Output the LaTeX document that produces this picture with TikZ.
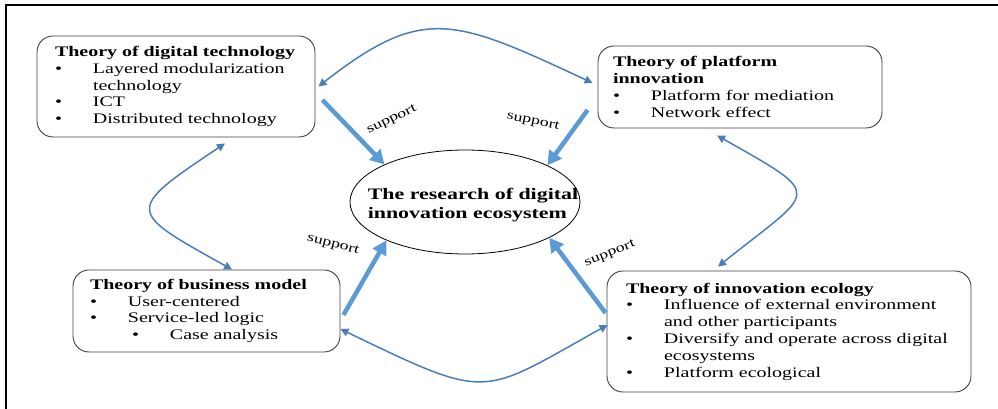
\documentclass[tikz,border=0pt]{standalone}
\usepackage{fontspec}
\setmainfont[FakeStretch=1.37]{Liberation Serif}
\usetikzlibrary{arrows.meta,calc,shapes.geometric}
\definecolor{supblue}{HTML}{5B9BD5}
\definecolor{linkblue}{HTML}{4A7EBB}
\definecolor{boxline}{HTML}{404040}
\newcommand{\bl}[1]{\mbox{\makebox[38pt][l]{•}#1}}
\newcommand{\sbl}[1]{\mbox{\hspace*{42pt}\makebox[38pt][l]{•}#1}}
\newcommand{\ct}[1]{\mbox{\hspace*{38pt}#1}}
\newcommand{\ttl}[1]{\mbox{\textbf{#1}}}
\tikzset{
  theorybox/.style={draw=boxline, line width=0.9pt, rounded corners=16pt, align=left,
    font=\fontsize{14.6}{16.8}\selectfont, inner ysep=0pt},
  supparrow/.style={draw=supblue, line width=4.5pt, -{Triangle[length=14pt,width=15pt]}},
  linkarrow/.style={draw=linkblue, line width=1.5pt,
    {Triangle[length=8pt,width=8pt]}-{Triangle[length=8pt,width=8pt]}},
  supplabel/.style={font=\fontsize{13}{15}\selectfont, inner sep=0pt},
}
\begin{document}
\begin{tikzpicture}[x=1pt,y=1pt]
\useasboundingbox (0,0) rectangle (998,409);
% frame
\draw[line width=2pt] (998,404) -- (6,404) -- (6,0);

% boxes
\node[theorybox, minimum width=278pt, minimum height=101pt, inner xsep=18pt, text width=242pt] (b1) at (176,322.5)
  {\ttl{Theory of digital technology}\\ \bl{Layered modularization}\\ \ct{technology}\\ \bl{ICT}\\ \bl{Distributed technology}};
\node[theorybox, minimum width=284pt, minimum height=82pt, inner xsep=15pt, text width=254pt] (b2) at (740,322)
  {\ttl{Theory of platform}\\ \ttl{innovation}\\ \bl{Platform for mediation}\\ \bl{Network effect}};
\node[theorybox, minimum width=267pt, minimum height=82pt, inner xsep=17pt, text width=233pt] (b3) at (206.5,98)
  {\ttl{Theory of business model}\\ \bl{User-centered}\\ \bl{Service-led logic}\\ \sbl{Case analysis}};
\node[theorybox, minimum width=364pt, minimum height=121pt, inner xsep=19pt, text width=326pt] (b4) at (789,77.5)
  {\ttl{Theory of innovation ecology}\\ \bl{Influence of external environment}\\ \ct{and other participants}\\
   \bl{Diversify and operate across digital}\\ \ct{ecosystems}\\ \bl{Platform ecological}};

% centre
\node[ellipse, draw, line width=0.8pt, minimum width=230pt, minimum height=104pt, inner sep=0pt] (c) at (465,207) {};
\node[align=left, inner sep=0pt, font=\bfseries\fontsize{16}{18.3}\selectfont] (ctext) at ($(c.center)+(8,-3)$)
  {The research of digital\\ innovation ecosystem};

% support arrows
\draw[supparrow] ($(b1.east)+(7,-13.5)$) -- (c.155);
\draw[supparrow] ($(b2.west)+(-10,-23)$) -- (c.24);
\draw[supparrow] ($(b3.east)+(3,-4)$) -- (c.206);
\draw[supparrow] ($(b4.west)+(-1,18.5)$) -- (c.-23);

\node[supplabel, rotate=26] (l1) at (392,289) {support};
\node[supplabel, rotate=-12] (l2) at (533,287) {support};
\node[supplabel, rotate=-15] (l3) at (333,164) {support};
\node[supplabel, rotate=22] (l4) at (610,155) {support};

% link curves
\draw[linkarrow] ($(b1.east)+(3,0)$) .. controls +(38:133) and +(155:153) .. ($(b2.west)+(-5,4)$);
\draw[linkarrow] ($(b1.south)+(49,-6)$) .. controls +(213.7:122) and +(150.8:120) .. ($(b3.north)+(25.5,0)$);
\draw[linkarrow] ($(b2.south)+(-23,-7)$) .. controls +(-29.5:126) and +(38.7:125) .. ($(b4.north)+(-71,4)$);
\draw[linkarrow] ($(b3.east)+(0,-18)$) .. controls +(-25.8:168) and +(209:146) .. ($(b4.west)+(1,6.5)$);
\end{tikzpicture}
\end{document}
